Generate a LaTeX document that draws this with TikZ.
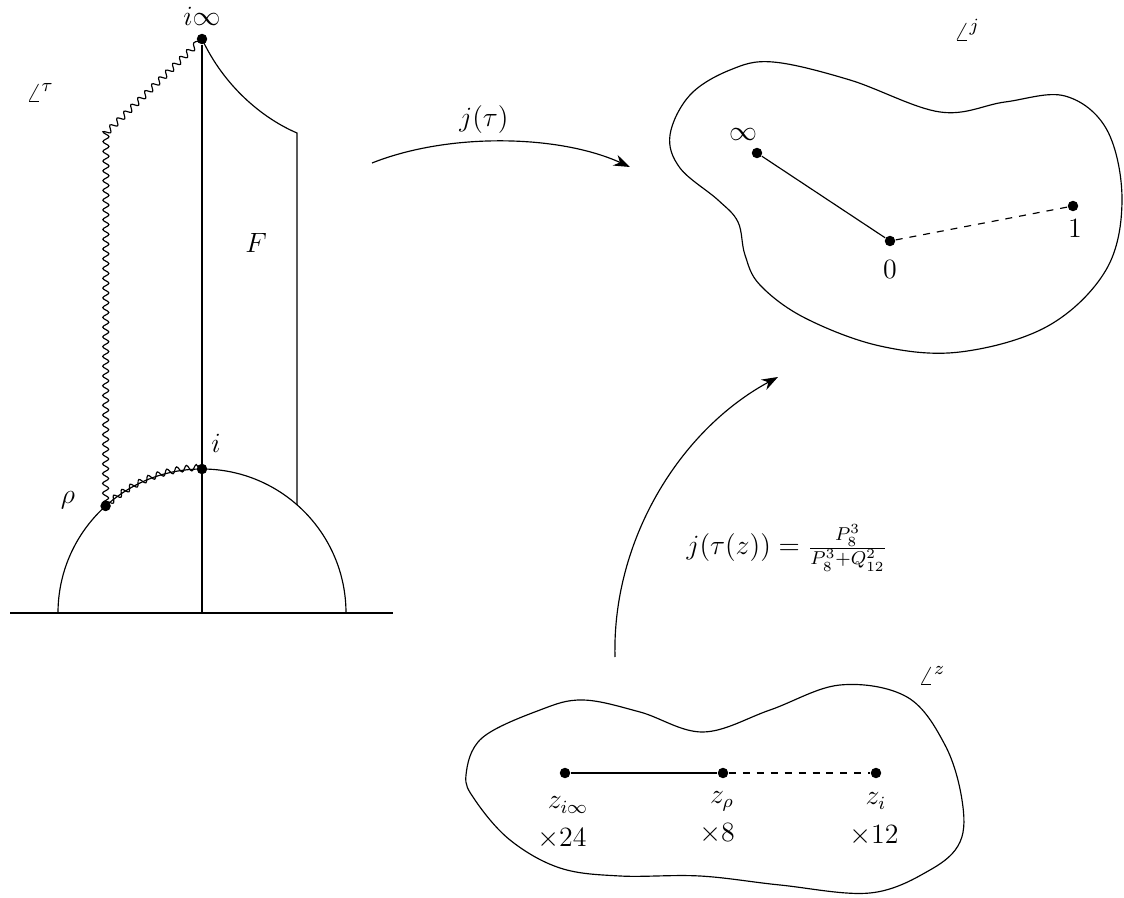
\documentclass[tikz,border=0pt]{standalone}
\usetikzlibrary{decorations.pathmorphing,arrows.meta}
\begin{document}
\begin{tikzpicture}[x=0.43pt,y=-0.43pt,
  line width=0.5pt,
  dot/.style={circle,fill,inner sep=0pt,minimum size=4.5pt},
  lbl/.style={inner sep=1pt,font=\large},
  wavy/.style={decorate,decoration={snake,amplitude=1.3pt,segment length=4.2pt}},
  maparrow/.style={-{Stealth[length=7pt,width=5pt]}}]
\useasboundingbox (0,0) rectangle (1124,898);
% ---------- tau plane ----------
\coordinate (base0) at (10,613);
\coordinate (base1) at (393,613);
\coordinate (arcL) at (58,613);
\coordinate (tl) at (106,133);
\coordinate (tr) at (297,133);
\coordinate (br) at (297,504.8);
\coordinate (foot) at (202,613);
\draw (base0) -- (base1);
\draw (arcL) arc[start angle=-180,end angle=0,radius=144];
\node[dot] (iinf) at (202,39) {};
\node[dot] (ipt) at (202,469) {};
\node[dot] (rho) at (105.6,506) {};
\draw (iinf) -- (foot);
\draw (iinf.center) .. controls (224,86) and (262,118) .. (tr) -- (br);
\draw[wavy] (rho.center) -- (tl) -- (iinf.center);
\draw[wavy] (rho.center) arc[start angle=-132,end angle=-90,radius=144];
\node[lbl] (tiinf) at (202,16) {$i\infty$};
\node[lbl] (trho) at (68,500) {$\rho$};
\node[lbl] (ti) at (216,443) {$i$};
\node[lbl] (tF) at (256,243) {$F$};
\node[lbl] (ttau) at (40,93) {$\angle^{\tau}$};
% ---------- arrow j(tau) ----------
\coordinate (a1s) at (372,163);
\coordinate (a1e) at (630,167);
\draw[maparrow] (a1s) .. controls (450,132) and (560,135) .. (a1e);
\node[lbl] (tj) at (484,120) {$j(\tau)$};
% ---------- j plane ----------
\draw plot[smooth cycle,tension=0.6] coordinates {
 (773,62) (850,80) (940,112) (1005,102) (1065,96) (1107,130) (1122,200)
 (1106,270) (1048,326) (960,352) (880,346) (805,318) (760,285) (745,255)
 (738,222) (718,200) (680,168) (670,135) (690,95) (730,70)};
\node[dot] (jinf) at (757,153) {};
\node[dot] (j0) at (890,241) {};
\node[dot] (j1) at (1073,206) {};
\draw (jinf) -- (j0);
\draw[dashed] (j0) -- (j1);
\node[lbl] (tjinf) at (743,134) {$\infty$};
\node[lbl] (tj0) at (890,270) {$0$};
\node[lbl] (tj1) at (1075,229) {$1$};
\node[lbl] (tjpl) at (967,30) {$\angle^{j}$};
% ---------- arrow j(tau(z)) ----------
\coordinate (a2s) at (615,657);
\coordinate (a2e) at (778,377);
\draw[maparrow] (a2s) .. controls (612,540) and (680,430) .. (a2e);
\node[lbl] (tform) at (787,548) {$j(\tau(z))=\frac{P_8^3}{P_8^3+Q_{12}^2}$};
% ---------- z plane ----------
\draw plot[smooth cycle,tension=0.6] coordinates {
 (540,710) (583,700) (640,712) (703,732) (770,710) (840,685) (907,697)
 (945,745) (962,800) (960,842) (930,870) (870,893) (780,885) (700,876)
 (620,876) (560,868) (510,840) (475,800) (466,775) (482,738)};
\node[dot] (zinf) at (565,773) {};
\node[dot] (zrho) at (723,773) {};
\node[dot] (zi) at (876,773) {};
\draw (zinf) -- (zrho);
\draw[dashed] (zrho) -- (zi);
\node[lbl] (tzinf) at (568,805) {$z_{i\infty}$};
\node[lbl] (tzrho) at (722,801) {$z_{\rho}$};
\node[lbl] (tzi) at (876,801) {$z_{i}$};
\node[lbl] (m24) at (562,839) {$\times 24$};
\node[lbl] (m8) at (717,834) {$\times 8$};
\node[lbl] (m12) at (874,836) {$\times 12$};
\node[lbl] (tzpl) at (932,676) {$\angle^{z}$};
\end{tikzpicture}
\end{document}
